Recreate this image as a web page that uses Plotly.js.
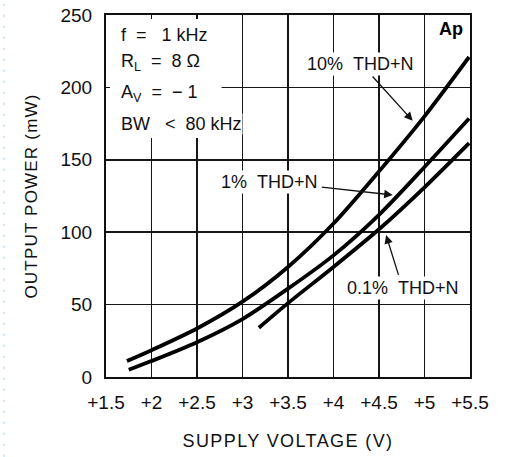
<!DOCTYPE html>
<html>
<head>
<meta charset="utf-8">
<script src="https://cdn.plot.ly/plotly-3.0.1.min.js"></script>
<style>
  html, body { margin: 0; padding: 0; background: #fff; }
  #chart { width: 507px; height: 457px; }
  .xtitle { letter-spacing: 1.4px; }
  .ytitle { letter-spacing: 1.2px; }
</style>
</head>
<body>
<div id="chart"></div>
<script>
// Supply voltage (V) and output power (mW)
var v10  = [1.73, 2, 2.5, 3, 3.5, 4, 4.5, 5, 5.49];
var p10  = [11, 18.5, 33.5, 52, 76, 106, 142, 180, 221];
var v1   = [1.75, 2, 2.5, 3, 3.5, 4, 4.5, 5, 5.49];
var p1   = [5, 11, 24, 40, 61, 84, 112, 145, 178.5];
var v01  = [3.18, 3.5, 4, 4.5, 5, 5.49];
var p01  = [34, 51, 76, 102, 131, 161.5];

var xTickVals = [1.5, 2, 2.5, 3, 3.5, 4, 4.5, 5, 5.5];
var xTickText = ['+1.5', '+2', '+2.5', '+3', '+3.5', '+4', '+4.5', '+5', '+5.5'];
var yTickVals = [0, 50, 100, 150, 200, 250];

var xTitle = 'SUPPLY VOLTAGE (V)';
var yTitle = 'OUTPUT POWER (mW)';
var S = '\u00A0';
var condLines = ['f' + S + S + '=' + S + S + ' 1 kHz',
                 'R<sub>L</sub>' + S + S + '=' + S + S + '8 \u03A9',
                 'A<sub>V</sub>' + S + S + '=' + S + S + '\u2212 1',
                 'BW' + S + S + S + '<' + S + S + '80 kHz'];
var condY = [236, 217, 196, 174.5];
var curveLabels = ['10%' + S + S + 'THD+N', '1%' + S + S + 'THD+N', '0.1%' + S + S + 'THD+N'];

var FONT = '"Liberation Sans", Arial, sans-serif';
function curve(x, y) {
  return { x: x, y: y, type: 'scatter', mode: 'lines',
    line: { color: '#000', width: 3.8, shape: 'spline', smoothing: 0.8 },
    hoverinfo: 'skip', showlegend: false };
}
var data = [curve(v10, p10), curve(v1, p1), curve(v01, p01)];

var ann = [];
condLines.forEach(function (t, i) {
  ann.push({ x: 1.655, y: condY[i], xref: 'x', yref: 'y', text: t, showarrow: false,
    xanchor: 'left', yanchor: 'middle', font: { family: FONT, size: 18, color: '#111' },
    bgcolor: '#fff', borderpad: 0 });
});
// label placed at (tx,ty), arrow pointing to (hx,hy)
function labelArrow(t, tx, ty, hx, hy) {
  return { x: hx, y: hy, ax: tx, ay: ty, xref: 'x', yref: 'y', axref: 'x', ayref: 'y',
    text: t, showarrow: true, arrowhead: 2, arrowsize: 1.3, arrowwidth: 1.3,
    arrowcolor: '#111', standoff: 0, startstandoff: 2,
    font: { family: FONT, size: 18, color: '#111' }, bgcolor: '#fff', borderpad: 1 };
}
ann.push(labelArrow(curveLabels[0], 4.30, 216.5, 4.87, 177));
ann.push(labelArrow(curveLabels[1], 3.30, 135, 4.65, 125.7));
ann.push(labelArrow(curveLabels[2], 4.76, 61.3, 4.578, 98));
ann.push({ x: 5.29, y: 240.5, xref: 'x', yref: 'y', text: '<b>Ap</b>', showarrow: false,
  xanchor: 'center', yanchor: 'middle', font: { family: FONT, size: 18, color: '#000' },
  bgcolor: '#fff' });

var layout = {
  width: 507, height: 457,
  margin: { l: 106, r: 37, t: 15, b: 80 },
  paper_bgcolor: '#fff', plot_bgcolor: '#fff',
  showlegend: false,
  xaxis: {
    range: [1.5, 5.5], tickvals: xTickVals, ticktext: xTickText,
    showgrid: true, gridcolor: '#161616', gridwidth: 1.5, zeroline: false,
    showline: true, linecolor: '#111', linewidth: 2, mirror: 'ticks',
    ticks: 'inside', ticklen: 4, tickwidth: 1.5, tickcolor: '#111',
    tickfont: { family: FONT, size: 19, color: '#111' },
    ticklabelstandoff: 7,
    title: { text: xTitle, font: { family: FONT, size: 18, color: '#111' }, standoff: 23 },
    fixedrange: true
  },
  yaxis: {
    range: [0, 250], tickvals: yTickVals,
    showgrid: true, gridcolor: '#161616', gridwidth: 1.5, zeroline: false,
    showline: true, linecolor: '#111', linewidth: 2, mirror: 'ticks',
    ticks: 'inside', ticklen: 4, tickwidth: 1.5, tickcolor: '#111',
    tickfont: { family: FONT, size: 19, color: '#111' },
    ticklabelstandoff: 8,
    title: { text: yTitle, font: { family: FONT, size: 17, color: '#111' }, standoff: 19 },
    fixedrange: true
  },
  shapes: [
    { type: 'rect', xref: 'x', yref: 'y', x0: 1.5, x1: 2.77, y0: 165, y1: 250,
      fillcolor: '#fff', line: { width: 0 }, layer: 'between' },
    { type: 'line', xref: 'paper', yref: 'paper', x0: -0.28, x1: -0.28, y0: -0.22, y1: 1.04,
      line: { color: '#b9dcef', width: 1.5, dash: '2px,9px' } }
  ],
  annotations: ann
};
Plotly.newPlot('chart', data, layout, { staticPlot: true, displayModeBar: false });
</script>
</body>
</html>
